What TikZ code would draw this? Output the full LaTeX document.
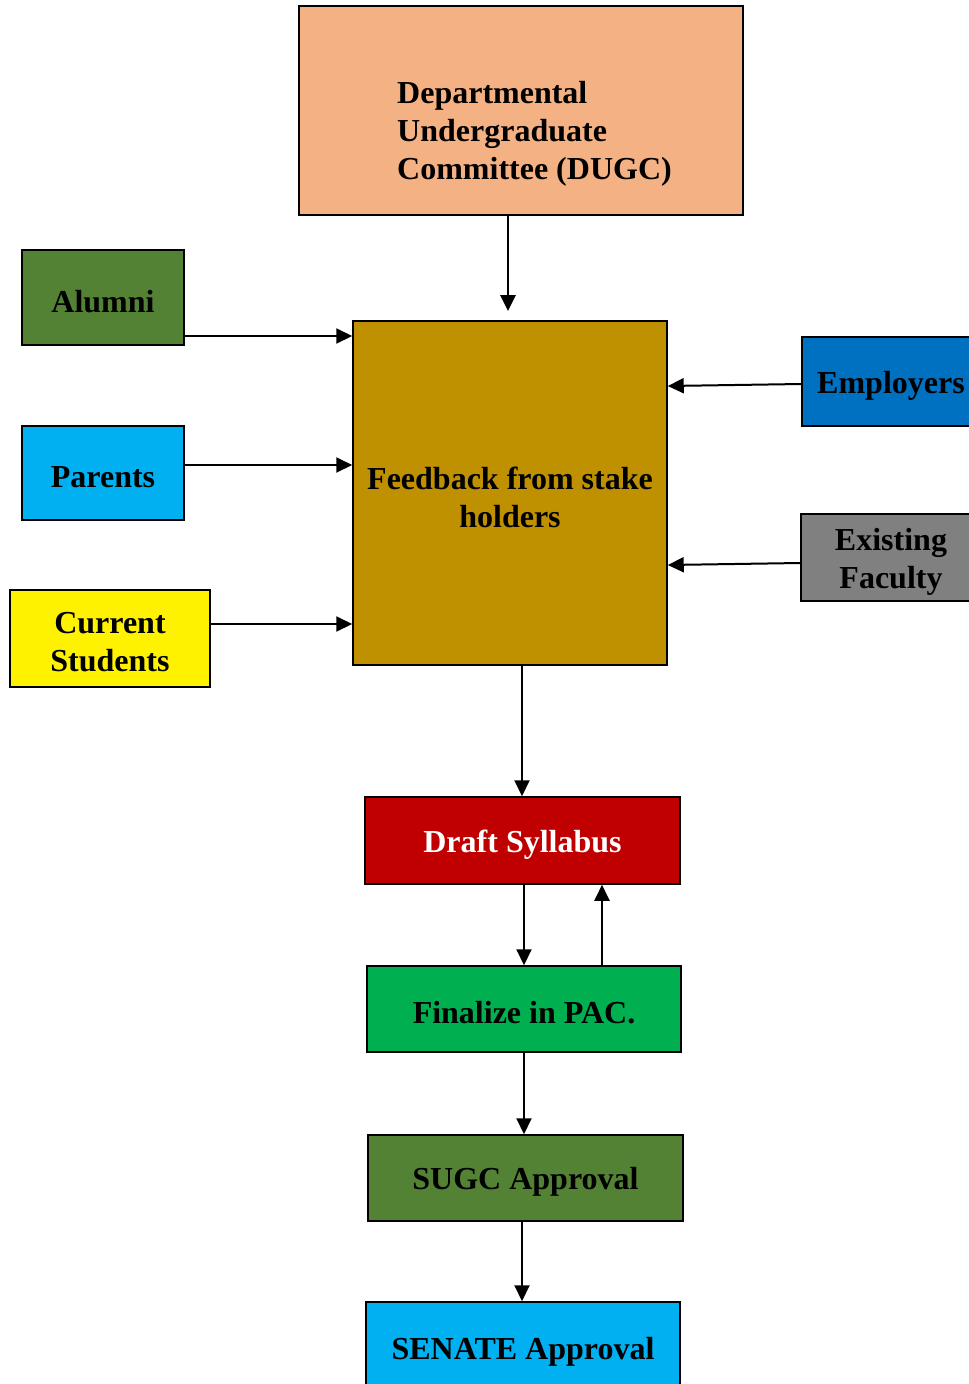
\documentclass[tikz,border=0pt]{standalone}
\usepackage{fontspec}
\setmainfont{Liberation Serif}
\usetikzlibrary{arrows.meta}
\definecolor{peach}{HTML}{F4B183}
\definecolor{gold}{HTML}{BF9000}
\definecolor{dgreen}{HTML}{548235}
\definecolor{sky}{HTML}{00B0F0}
\definecolor{blu}{HTML}{0070C0}
\definecolor{gry}{HTML}{808080}
\definecolor{dred}{HTML}{C00000}
\definecolor{lgreen}{HTML}{00B050}
\tikzset{
  box/.style={draw=black, line width=1.5pt, inner sep=0pt},
  txt/.style={inner sep=0pt, align=center, yshift=-4pt,
    font=\fontsize{32}{38}\selectfont\bfseries, text=black},
  conn/.style={line width=2pt, -{Triangle[length=16pt,width=15pt]}},
}
\begin{document}
\begin{tikzpicture}[x=1pt,y=-1pt]
\useasboundingbox (0,0) rectangle (969,1384);
\clip (0,0) rectangle (969,1384);
\node[box, fill=peach, minimum width=444pt, minimum height=209pt] (dugc) at (521,110.5) {};
\node[txt, anchor=west, align=left, yshift=0pt] (dugct) at (397,130) {Departmental\\Undergraduate\\Committee (DUGC)};
\node[box, fill=gold, minimum width=314pt, minimum height=344pt,
  label={[txt]center:{Feedback from stake\\holders}}] (fb) at (510,493) {};
\node[box, fill=dgreen, minimum width=162pt, minimum height=95pt,
  label={[txt]center:Alumni}] (alu) at (103,297.5) {};
\node[box, fill=sky, minimum width=162pt, minimum height=94pt,
  label={[txt]center:Parents}] (par) at (103,473) {};
\node[box, fill=yellow, minimum width=200pt, minimum height=97pt,
  label={[txt]center:{Current\\Students}}] (cur) at (110,638.5) {};
\node[box, fill=blu, minimum width=178pt, minimum height=89pt,
  label={[txt]center:Employers}] (emp) at (891,381.5) {};
\node[box, fill=gry, minimum width=180pt, minimum height=87pt,
  label={[txt]center:{Existing\\Faculty}}] (fac) at (891,557.5) {};
\node[box, fill=dred, minimum width=315pt, minimum height=87pt,
  label={[txt, text=white]center:Draft Syllabus}] (draft) at (522.5,840.5) {};
\node[box, fill=lgreen, minimum width=314pt, minimum height=86pt,
  label={[txt]center:Finalize in PAC.}] (fin) at (524,1009) {};
\node[box, fill=dgreen, minimum width=315pt, minimum height=86pt,
  label={[txt]center:SUGC Approval}] (sugc) at (525.5,1178) {};
\node[box, fill=sky, minimum width=314pt, minimum height=92pt,
  label={[txt]center:SENATE Approval}] (sen) at (523,1348) {};

\draw[conn, line width=2.8pt] (dugc.south -| 508,0) -- (508,311);
\draw[conn] (alu.east |- 0,336) -- (fb.west |- 0,336);
\draw[conn] (par.east |- 0,465) -- (fb.west |- 0,465);
\draw[conn] (cur.east |- 0,624) -- (fb.west |- 0,624);
\draw[conn] (emp.west |- 0,384) -- (fb.east |- 0,386);
\draw[conn] (fac.west |- 0,563) -- (fb.east |- 0,565);
\draw[conn] (fb.south -| 522,0) -- (draft.north -| 522,0);
\draw[conn] (draft.south -| 524,0) -- (fin.north -| 524,0);
\draw[conn] (fin.north -| 602,0) -- (draft.south -| 602,0);
\draw[conn] (fin.south -| 524,0) -- (sugc.north -| 524,0);
\draw[conn] (sugc.south -| 522,0) -- (sen.north -| 522,0);
\end{tikzpicture}
\end{document}
